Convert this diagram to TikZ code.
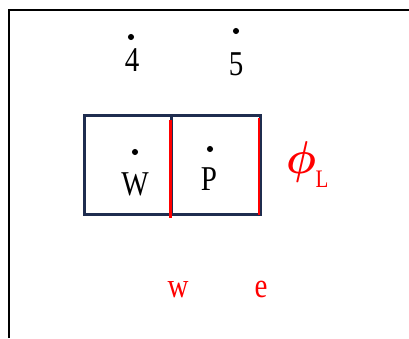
\documentclass[tikz,border=0pt]{standalone}
\usepackage{fontspec}
\setmainfont{Liberation Serif}
\definecolor{navy}{HTML}{1F2D4F}
\definecolor{pred}{HTML}{FF0000}
\newcommand{\bigtxt}[1]{\scalebox{1}[1.2]{\fontsize{29}{32}\selectfont #1}}
\begin{document}
\begin{tikzpicture}[x=1pt,y=-1pt,
  lbl/.style={inner sep=0pt,anchor=base,text=black},
  rlbl/.style={inner sep=0pt,anchor=base,text=pred},
  dotc/.style={circle,fill=black,draw=black,line width=1pt,inner sep=0pt,minimum size=5pt},
  frameline/.style={line width=2pt,black},
  cellbox/.style={line width=3pt,draw=navy},
  face/.style={line width=2.6pt,draw=pred}]
\useasboundingbox (0,0) rectangle (409,338);
% outer frame (top and left only visible)
\coordinate (fa) at (9,338);
\coordinate (fb) at (9,10);
\coordinate (fc) at (409,10);
\draw[frameline] (fa) -- (fb) -- (fc);
% cells
\coordinate (bl) at (84,115);
\coordinate (br) at (260,214);
\draw[cellbox] (bl) rectangle (br);
\coordinate (dt) at (171,115);
\coordinate (db) at (171,214);
\draw[cellbox] (dt) -- (db);
% faces
\coordinate (wt) at (170.5,120);
\coordinate (wb) at (170.5,218);
\coordinate (et) at (259,118);
\coordinate (eb) at (259,215);
\draw[face] (wt) -- (wb);
\draw[face] (et) -- (eb);
% nodes
\node[lbl] (n4) at (132,71) {\bigtxt{4}};
\node[dotc] (d4) at (131,37) {};
\node[lbl] (n5) at (236,75) {\bigtxt{5}};
\node[dotc] (d5) at (236,31) {};
\node[lbl] (nW) at (135,195) {\bigtxt{W}};
\node[dotc] (dW) at (135,152) {};
\node[lbl] (nP) at (209,190) {\bigtxt{P}};
\node[dotc] (dP) at (210,149) {};
% phi_L
\node[inner sep=0pt,text=pred] (phi) at (301,162) {\scalebox{4.2}[4.6]{\boldmath$\phi$}};
\node[rlbl] (phL) at (322,187) {\scalebox{1}[1.2]{\fontsize{21}{24}\selectfont L}};
% face labels
\node[rlbl] (lw) at (178,297) {\bigtxt{w}};
\node[rlbl] (le) at (261,297) {\bigtxt{e}};
\end{tikzpicture}
\end{document}
